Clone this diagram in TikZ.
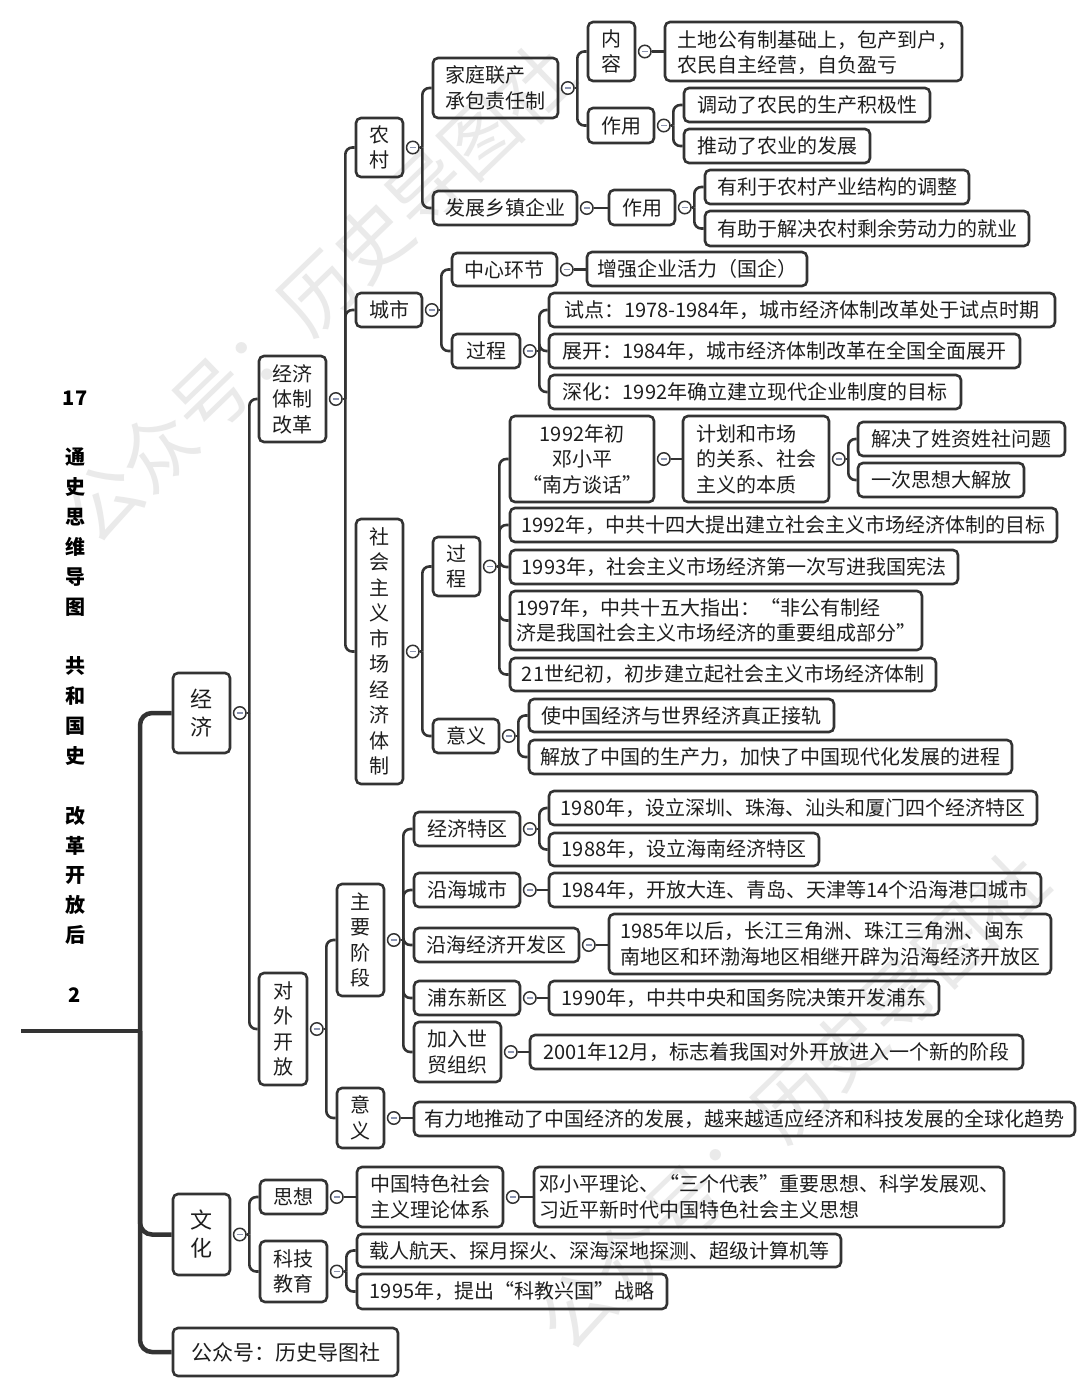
\documentclass[tikz,border=0pt]{standalone}
\usepackage{fontspec}
\setmainfont{Noto Sans CJK SC}
\usetikzlibrary{calc}
\definecolor{ln}{HTML}{333333}
\definecolor{tx}{HTML}{1E1E1E}
\definecolor{wmc}{HTML}{EAEAEA}
\definecolor{dashc}{HTML}{8A93B0}
\tikzset{
  bx/.style={draw=ln, line width=2.6pt, rounded corners=5pt, text=tx, inner sep=0pt,
    font=\fontsize{20}{25.5}\selectfont, align=center},
  bxl/.style={align=left},
  big/.style={font=\fontsize{22}{28}\selectfont},
  conn/.style={draw=ln, line width=2.6pt},
  rootln/.style={draw=ln, line width=4.5pt},
  coll/.style={circle, draw=ln, line width=1.5pt, fill=white, minimum size=12.5pt, inner sep=0pt,
    path picture={\draw[dashc, line width=1.3pt] ([xshift=-3pt]path picture bounding box.center) -- ([xshift=3pt]path picture bounding box.center);}},
  wm/.style={text=wmc, font=\fontsize{75}{75}\selectfont, rotate=44, inner sep=0pt},
  ttl/.style={text=black, font=\bfseries\fontsize{20}{29.85}\selectfont, align=center, inner sep=0pt},
}
\newcommand\mkbox[7][]{%
  \pgfmathsetmacro\bxcx{(#3+#5)/2}\pgfmathsetmacro\bxcy{(#4+#6)/2}%
  \pgfmathsetmacro\bxw{#5-#3-2}\pgfmathsetmacro\bxh{#6-#4-2}%
  \node[bx, minimum width=\bxw pt, minimum height=\bxh pt, #1] (#2) at (\bxcx,\bxcy) {#7};}
\newcommand\clp[1]{\node[coll] (#1-c) at ($(#1.east)+(8.5,0)$) {};}
\newcommand\br[2]{\clp{#1}\coordinate (#1-b) at ($(#1.east)+(18,0)$);
  \draw[conn] (#1-c.east) -- (#1-b);
  \foreach \kid in {#2}{\draw[conn, rounded corners=7pt] (#1-b) |- (\kid.west);}}
\newcommand\one[2]{\clp{#1}\draw[conn] (#1-c.east) -- (#1-c.east -| #2.west);}
\begin{document}
\begin{tikzpicture}[x=1pt,y=-1pt]
\fill[white] (0,0) rectangle (1080,1398);
\useasboundingbox (0,0) rectangle (1080,1398);
% watermarks
\node[wm] (wm1) at (318,293) {公众号：历史导图社};
\node[wm] (wm2) at (792,1100) {公众号：历史导图社};
% title
\node[ttl] (title) at (75,696.5) {17\\~\\通\\史\\思\\维\\导\\图\\~\\共\\和\\国\\史\\~\\改\\革\\开\\放\\后\\~\\2};
% level 1
\mkbox[big]{jj}{172}{672}{231}{754}{经\\济}
\mkbox[big]{wh}{172}{1193}{231}{1276}{文\\化}
\mkbox[font=\fontsize{21}{26}\selectfont]{gzh}{172}{1327}{399}{1377}{公众号：历史导图社}
% level 2
\mkbox{jjtz}{258}{355}{327}{443}{经济\\体制\\改革}
\mkbox{dwkf}{258}{972}{308}{1086}{对\\外\\开\\放}
% 农村
\mkbox{nc}{355}{117}{404}{178}{农\\村}
\mkbox{cs}{355}{292}{423}{328}{城市}
\mkbox{sh}{355}{518}{404}{785}{社\\会\\主\\义\\市\\场\\经\\济\\体\\制}
\mkbox[bxl]{jt}{432}{57}{559}{119}{家庭联产\\承包责任制}
\mkbox{fz}{432}{190}{578}{226}{发展乡镇企业}
\mkbox{nr}{587}{21}{636}{82}{内\\容}
\mkbox{zya}{587}{107}{655}{144}{作用}
\mkbox[bxl,text depth=0pt,xshift=0pt]{td}{664}{21}{963}{82}{\hspace*{8pt}土地公有制基础上，包产到户，\\\hspace*{8pt}农民自主经营，自负盈亏}
\mkbox{dd}{683}{87}{931}{123}{调动了农民的生产积极性}
\mkbox{tdb}{683}{128}{871}{164}{推动了农业的发展}
\mkbox{zyb}{608}{189}{676}{226}{作用}
\mkbox{yl}{704}{169}{970}{205}{有利于农村产业结构的调整}
\mkbox{yz}{704}{210}{1030}{247}{有助于解决农村剩余劳动力的就业}
% 城市
\mkbox{zx}{451}{252}{558}{287}{中心环节}
\mkbox{zq}{586}{251}{808}{287}{增强企业活力（国企）}
\mkbox{gca}{451}{333}{521}{369}{过程}
\mkbox{sd}{548}{292}{1056}{328}{试点：1978-1984年，城市经济体制改革处于试点时期}
\mkbox{zk}{548}{333}{1021}{369}{展开：1984年，城市经济体制改革在全国全面展开}
\mkbox{shb}{548}{374}{962}{410}{深化：1992年确立建立现代企业制度的目标}
% 社会主义市场经济体制
\mkbox{gcb}{432}{536}{481}{597}{过\\程}
\mkbox{yya}{432}{718}{500}{754}{意义}
\mkbox{nf}{509}{415}{655}{503}{1992年初\\邓小平\\“南方谈话”}
\mkbox[bxl]{jh}{682}{415}{830}{503}{计划和市场\\的关系、社会\\主义的本质}
\mkbox{js}{857}{421}{1066}{457}{解决了姓资姓社问题}
\mkbox{yc}{857}{462}{1025}{498}{一次思想大解放}
\mkbox{anb}{509}{507}{1058}{543}{1992年，中共十四大提出建立社会主义市场经济体制的目标}
\mkbox{anc}{509}{549}{959}{585}{1993年，社会主义市场经济第一次写进我国宪法}
\mkbox[bxl]{and}{509}{590}{923}{651}{1997年，中共十五大指出：“非公有制经\\济是我国社会主义市场经济的重要组成部分”}
\mkbox{ane}{509}{657}{937}{692}{21世纪初，初步建立起社会主义市场经济体制}
\mkbox{sz}{528}{698}{835}{733}{使中国经济与世界经济真正接轨}
\mkbox{jf}{528}{739}{1013}{775}{解放了中国的生产力，加快了中国现代化发展的进程}
% 对外开放
\mkbox{zyjd}{336}{883}{385}{997}{主\\要\\阶\\段}
\mkbox{yyb}{336}{1087}{385}{1149}{意\\义}
\mkbox{tq}{413}{811}{521}{847}{经济特区}
\mkbox{yh}{413}{872}{521}{908}{沿海城市}
\mkbox{yk}{413}{927}{580}{963}{沿海经济开发区}
\mkbox{pd}{413}{980}{521}{1016}{浦东新区}
\mkbox[bxl]{wto}{413}{1021}{502}{1083}{加入世\\贸组织}
\mkbox{bf}{548}{790}{1038}{826}{1980年，设立深圳、珠海、汕头和厦门四个经济特区}
\mkbox{bg}{548}{832}{820}{867}{1988年，设立海南经济特区}
\mkbox{bh}{548}{872}{1042}{908}{1984年，开放大连、青岛、天津等14个沿海港口城市}
\mkbox[bxl]{bi}{608}{913}{1052}{975}{1985年以后，长江三角洲、珠江三角洲、闽东\\南地区和环渤海地区相继开辟为沿海经济开放区}
\mkbox{bj}{548}{980}{940}{1016}{1990年，中共中央和国务院决策开发浦东}
\mkbox{bk}{529}{1034}{1024}{1070}{2001年12月，标志着我国对外开放进入一个新的阶段}
\mkbox{yl2}{413}{1101}{1076}{1137}{有力地推动了中国经济的发展，越来越适应经济和科技发展的全球化趋势}
% 文化
\mkbox{sx}{259}{1179}{328}{1215}{思想}
\mkbox{kj}{259}{1240}{328}{1303}{科技\\教育}
\mkbox{zg}{356}{1166}{504}{1228}{中国特色社会\\主义理论体系}
\mkbox[bxl]{dx}{533}{1166}{1005}{1228}{邓小平理论、“三个代表”重要思想、科学发展观、\\习近平新时代中国特色社会主义思想}
\mkbox{zr}{356}{1233}{842}{1268}{载人航天、探月探火、深海深地探测、超级计算机等}
\mkbox{kx}{356}{1273}{668}{1310}{1995年，提出“科教兴国”战略}
% root connectors
\coordinate (r0) at (21,1031);
\coordinate (rb) at (140,1031);
\draw[rootln] (r0) -- (rb);
\foreach \kid in {jj,wh,gzh}{\draw[rootln, rounded corners=12pt] (rb) |- (\kid.west);}
% branches
\br{jj}{jjtz,dwkf}
\br{wh}{sx,kj}
\br{jjtz}{nc,cs,sh}
\br{nc}{jt,fz}
\br{jt}{nr,zya}
\one{nr}{td}
\br{zya}{dd,tdb}
\one{fz}{zyb}
\br{zyb}{yl,yz}
\br{cs}{zx,gca}
\one{zx}{zq}
\br{gca}{sd,zk,shb}
\br{sh}{gcb,yya}
\br{gcb}{nf,anb,anc,and,ane}
\one{nf}{jh}
\br{jh}{js,yc}
\br{yya}{sz,jf}
\br{dwkf}{zyjd,yyb}
\br{zyjd}{tq,yh,yk,pd,wto}
\br{tq}{bf,bg}
\one{yh}{bh}
\one{yk}{bi}
\one{pd}{bj}
\one{wto}{bk}
\one{yyb}{yl2}
\one{sx}{zg}
\one{zg}{dx}
\br{kj}{zr,kx}
\end{tikzpicture}
\end{document}
